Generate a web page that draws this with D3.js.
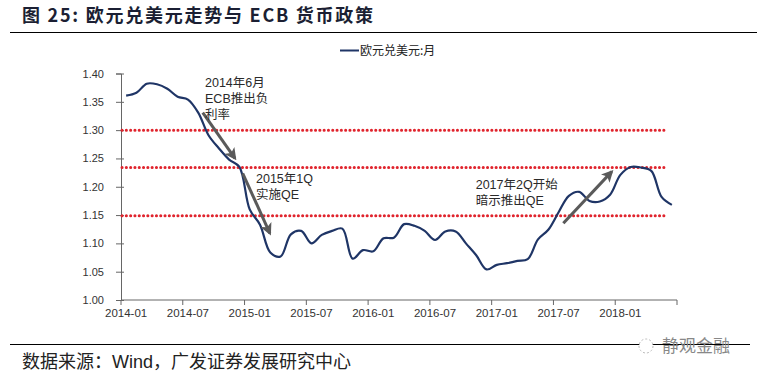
<!DOCTYPE html>
<html><head><meta charset="utf-8">
<script src="https://cdn.jsdelivr.net/npm/d3@7"></script>
<style>
html,body{margin:0;padding:0;background:#fff;}
svg{display:block;}
</style></head>
<body>
<svg id="c" width="757" height="378"></svg>
<script>
// ---- data ----
const months = [];
for (let y = 2014; y <= 2018; y++) for (let m = 1; m <= 12; m++) {
  if (y === 2018 && m > 6) break;
  months.push(y + "-" + String(m).padStart(2, "0"));
}
const eurusd = [
  1.361, 1.366, 1.382, 1.381, 1.373, 1.359, 1.354, 1.331, 1.291, 1.268, 1.248, 1.235,
  1.160, 1.133, 1.084, 1.077, 1.116, 1.122, 1.100, 1.115, 1.122, 1.126, 1.073, 1.088,
  1.086, 1.109, 1.110, 1.134, 1.131, 1.122, 1.106, 1.121, 1.121, 1.100, 1.079, 1.054,
  1.062, 1.065, 1.069, 1.072, 1.107, 1.124, 1.155, 1.184, 1.191, 1.175, 1.174, 1.186,
  1.221, 1.235, 1.234, 1.228, 1.182, 1.168
];
const yTicks = [1.00, 1.05, 1.10, 1.15, 1.20, 1.25, 1.30, 1.35, 1.40];
const xTickLabels = ["2014-01","2014-07","2015-01","2015-07","2016-01","2016-07","2017-01","2017-07","2018-01"];
const refLevels = [1.30, 1.234, 1.149];
const seriesName = "欧元兑美元:月";
const title = "图 25:  欧元兑美元走势与 ECB 货币政策";
const source = "数据来源：Wind，广发证券发展研究中心";
const watermark = "静观金融";
// annotations: text lines anchored at [month index, value]
const notes = [
  {at: [7.66, 1.376], lines: ["2014年6月", "ECB推出负", "利率"]},
  {at: [12.61, 1.2066], lines: ["2015年1Q", "实施QE"]},
  {at: [33.95, 1.196], lines: ["2017年2Q开始", "暗示推出QE"]}
];
const arrows = [
  {from: [7.44, 1.331], to: [10.57, 1.2502]},
  {from: [11.32, 1.2238], to: [13.96, 1.1178]},
  {from: [42.46, 1.1355], to: [47.16, 1.2267]}
];

// ---- layout ----
const svg = d3.select("#c");
const L = 121, R = 677, T = 73.5, B = 300;
const n = months.length;
const xb = d3.scaleLinear().domain([0, n]).range([L, R]); // category boundaries
const xc = i => xb(i + 0.5);
const y = d3.scaleLinear().domain([1.0, 1.4]).range([B, T]);

// title
svg.append("text").attr("x", 22).attr("y", 22)
  .attr("font-family", "'Noto Sans CJK SC', sans-serif").attr("font-weight", "bold")
  .attr("font-size", 18).attr("letter-spacing", 1.75).attr("fill", "#1b1f33").text(title);
svg.append("line").attr("x1", 10).attr("x2", 757).attr("y1", 32.5).attr("y2", 32.5)
  .attr("stroke", "#000").attr("stroke-width", 1.2);

// legend
svg.append("line").attr("x1", 340).attr("x2", 359).attr("y1", 50.5).attr("y2", 50.5)
  .attr("stroke", "#1f3566").attr("stroke-width", 2);
svg.append("text").attr("x", 360).attr("y", 54.5)
  .attr("font-family", "'Noto Sans CJK SC', sans-serif").attr("font-size", 12)
  .attr("fill", "#222").text(seriesName);

// y axis
const yAxis = d3.axisLeft(y).tickValues(yTicks).tickFormat(d3.format(".2f")).tickSize(5).tickPadding(12);
const gy = svg.append("g").attr("transform", `translate(${L},0)`).call(yAxis);
gy.selectAll("line").attr("stroke", "#666").attr("x2", -5);
gy.select(".domain").attr("stroke", "#666");
gy.selectAll("text").attr("font-family", "'Liberation Sans', Arial, sans-serif").attr("font-size", 11).attr("fill", "#333");
gy.selectAll(".tick").append("line").attr("x1", 0).attr("x2", 3).attr("stroke", "#666");

// x axis
const tickIdx = d3.range(0, n + 1, 6);
const xAxisG = svg.append("g").attr("transform", `translate(0,${B})`);
xAxisG.append("line").attr("x1", L).attr("x2", R).attr("stroke", "#666");
xAxisG.selectAll("line.t").data(tickIdx).join("line").attr("class", "t")
  .attr("x1", d => xb(d)).attr("x2", d => xb(d)).attr("y1", 0).attr("y2", 5).attr("stroke", "#666");
xAxisG.selectAll("text").data(xTickLabels).join("text")
  .attr("x", (d, i) => xc(i * 6)).attr("y", 17).attr("text-anchor", "middle")
  .attr("font-family", "'Liberation Sans Narrow', 'Liberation Sans', Arial, sans-serif").attr("font-size", 11.5)
  .attr("fill", "#333").text(d => d);

// reference lines
svg.selectAll("line.ref").data(refLevels).join("line").attr("class", "ref")
  .attr("x1", L + 1).attr("x2", xc(n - 1) - 5).attr("y1", d => y(d)).attr("y2", d => y(d))
  .attr("stroke", "#e0242d").attr("stroke-width", 3).attr("stroke-linecap", "round")
  .attr("stroke-dasharray", "0.1 4.2");

// series
const line = d3.line().x((d, i) => xc(i)).y(d => y(d)).curve(d3.curveCatmullRom.alpha(0.5));
svg.append("path").datum(eurusd).attr("d", line).attr("fill", "none")
  .attr("stroke", "#1f3566").attr("stroke-width", 2.2);

// arrows
const defs = svg.append("defs");
defs.append("marker").attr("id", "ah").attr("viewBox", "0 0 10 10").attr("refX", 8).attr("refY", 5)
  .attr("markerWidth", 4).attr("markerHeight", 4).attr("orient", "auto")
  .append("path").attr("d", "M0,0 L10,5 L0,10 L2.5,5 Z").attr("fill", "#5a5a5a");
svg.selectAll("line.arr").data(arrows).join("line").attr("class", "arr")
  .attr("x1", d => xc(d.from[0])).attr("y1", d => y(d.from[1]))
  .attr("x2", d => xc(d.to[0])).attr("y2", d => y(d.to[1]))
  .attr("stroke", "#5a5a5a").attr("stroke-width", 3).attr("marker-end", "url(#ah)");

// annotation text
notes.forEach(nt => {
  const t = svg.append("text").attr("font-family", "'Liberation Sans', 'Noto Sans CJK SC', sans-serif")
    .attr("font-size", 12.5).attr("fill", "#2a2a2a");
  nt.lines.forEach((s, k) => t.append("tspan").attr("x", xc(nt.at[0])).attr("y", y(nt.at[1]) + k * 16).text(s));
});

// footer
svg.append("line").attr("x1", 10).attr("x2", 750).attr("y1", 344.5).attr("y2", 344.5)
  .attr("stroke", "#000").attr("stroke-width", 1.2);
svg.append("text").attr("x", 22).attr("y", 368)
  .attr("font-family", "'Liberation Sans', 'Noto Sans CJK SC', sans-serif").attr("font-size", 18)
  .attr("fill", "#222").text(source);
svg.append("circle").attr("cx", 646).attr("cy", 346).attr("r", 7).attr("fill", "#fff").attr("stroke", "#bbb").attr("stroke-dasharray", "2 2");
svg.append("text").attr("x", 662).attr("y", 352)
  .attr("font-family", "'Noto Sans CJK SC', sans-serif").attr("font-size", 17)
  .attr("fill", "#888").text(watermark);
</script>
</body></html>
